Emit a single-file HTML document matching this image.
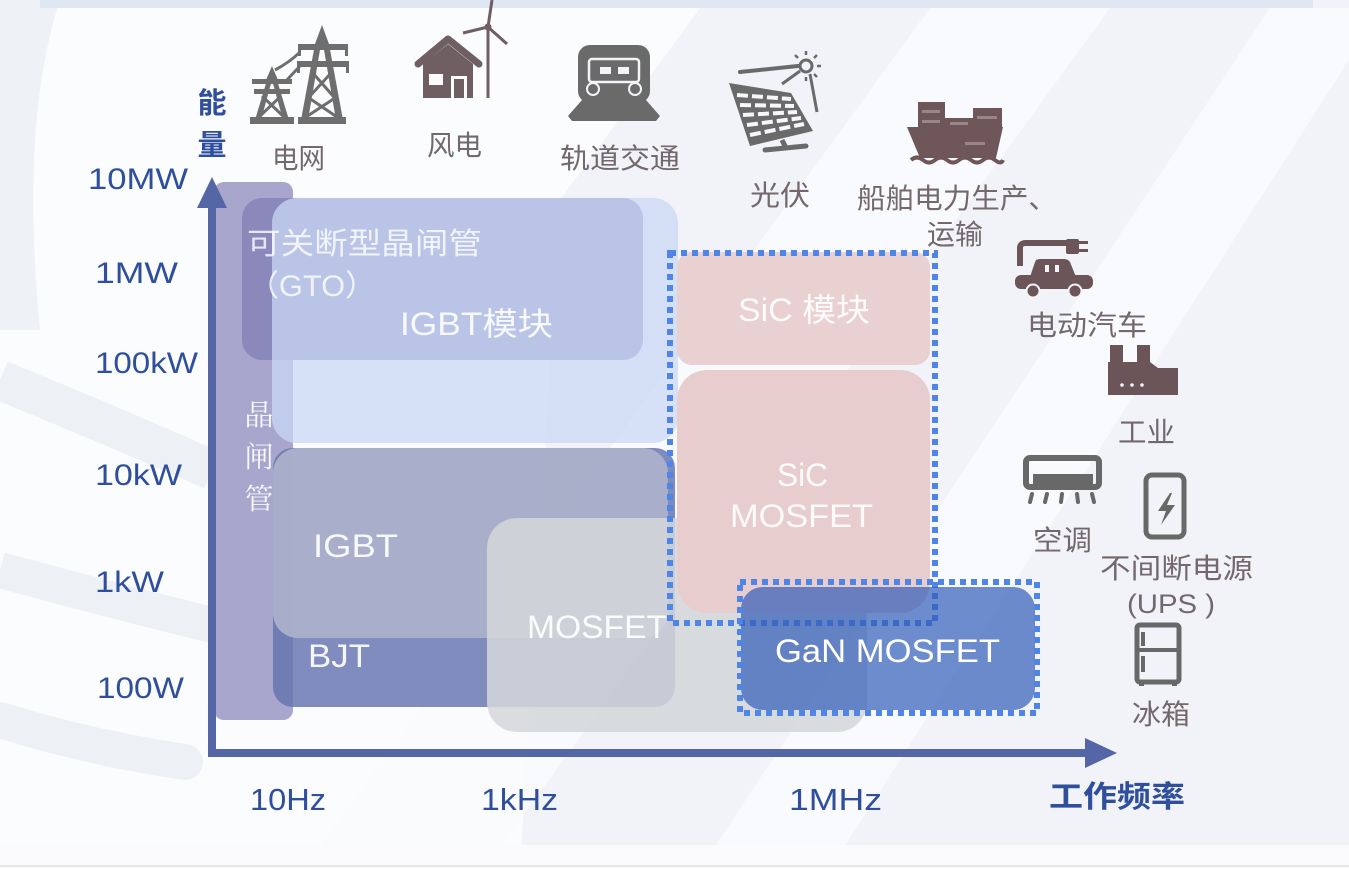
<!DOCTYPE html>
<html><head><meta charset="utf-8"><style>
html,body{margin:0;padding:0;background:#f2f4f8;width:1349px;height:869px;overflow:hidden;}
svg{display:block;}
.l{font-family:"Liberation Sans","Noto Sans CJK SC",sans-serif;}
.c{font-family:"Liberation Sans","Noto Sans CJK SC",sans-serif;}
.s{font-family:"Noto Serif CJK SC","Noto Sans CJK SC",serif;}
</style></head><body>
<svg width="1349" height="869" viewBox="0 0 1349 869" xmlns="http://www.w3.org/2000/svg">
<!-- background -->
<rect x="0" y="0" width="1349" height="869" fill="#f1f3f8"/>
<polygon points="40,8 700,8 560,200 520,869 0,869 0,330" fill="#fbfcfe"/>
<polygon points="930,8 1110,8 484,869 304,869" fill="#fafbfd" opacity="0.9"/>
<polygon points="1270,8 1349,8 1349,60 830,869 700,869" fill="#fafbfd" opacity="0.9"/>
<g fill="none" stroke="#edf0f5">
<path d="M0,380 Q110,425 212,470" stroke-width="40"/>
<path d="M0,570 Q110,600 212,625" stroke-width="36"/>
<path d="M0,720 Q90,748 185,762" stroke-width="36" stroke-linecap="round"/>
</g>
<path d="M0,0 L60,0 Q20,120 40,330 L0,330 Z" fill="#eef1f6"/>
<rect x="40" y="0" width="1273" height="8" fill="#dfe7f3"/>
<rect x="0" y="845" width="1349" height="24" fill="#fbfbfd"/>
<rect x="0" y="865" width="1349" height="2" fill="#e4e6ea"/>

<!-- chart boxes -->
<rect x="214" y="182" width="79" height="538" rx="10" fill="#a8a6cc"/>
<rect x="242" y="198" width="401" height="162" rx="20" fill="#8b88bb"/>
<rect x="272" y="198" width="406" height="245" rx="25" fill="rgb(201,216,244)" fill-opacity="0.75"/>
<rect x="273" y="448" width="402" height="259" rx="20" fill="rgb(100,115,175)" fill-opacity="0.82"/>
<rect x="273" y="448" width="395" height="190" rx="25" fill="rgb(172,178,202)" fill-opacity="0.93"/>
<rect x="487" y="518" width="380" height="214" rx="30" fill="rgb(212,214,218)" fill-opacity="0.86"/>
<rect x="677" y="252" width="253" height="113" rx="15" fill="#e9d0d1"/>
<rect x="677" y="370" width="253" height="243" rx="30" fill="#e8cdce"/>
<rect x="670" y="253" width="265" height="370" fill="none" stroke="#4f86e6" stroke-width="6" stroke-dasharray="6 5"/>
<rect x="741" y="587" width="294" height="123" rx="22" fill="rgb(50,92,184)" fill-opacity="0.7"/>
<rect x="740" y="582" width="297" height="131" fill="none" stroke="#4f86e6" stroke-width="6" stroke-dasharray="6 5"/>

<!-- box texts -->
<g fill="#ffffff">
<text class="c" x="247" y="254" font-size="30" textLength="235" lengthAdjust="spacingAndGlyphs" fill-opacity="0.8">可关断型晶闸管</text>
<text class="c" x="248" y="296" font-size="30" textLength="128" lengthAdjust="spacingAndGlyphs" fill-opacity="0.8">（GTO）</text>
<text class="c" x="400" y="335" font-size="32" textLength="153" lengthAdjust="spacingAndGlyphs" fill-opacity="0.9">IGBT模块</text>
<text class="s" x="259" y="425" font-size="29" text-anchor="middle" fill-opacity="0.9">晶</text>
<text class="s" x="259" y="467" font-size="29" text-anchor="middle" fill-opacity="0.9">闸</text>
<text class="s" x="259" y="509" font-size="29" text-anchor="middle" fill-opacity="0.9">管</text>
<text class="l" x="313" y="557" font-size="32" textLength="85" lengthAdjust="spacingAndGlyphs" fill-opacity="0.92">IGBT</text>
<text class="l" x="308" y="667" font-size="32" textLength="62" lengthAdjust="spacingAndGlyphs" fill-opacity="0.92">BJT</text>
<text class="l" x="527" y="638" font-size="32" textLength="140" lengthAdjust="spacingAndGlyphs" fill-opacity="0.92">MOSFET</text>
<text class="c" x="738" y="321" font-size="32" textLength="132" lengthAdjust="spacingAndGlyphs" fill-opacity="0.9">SiC 模块</text>
<text class="l" x="777" y="486" font-size="32" textLength="51" lengthAdjust="spacingAndGlyphs" fill-opacity="0.9">SiC</text>
<text class="l" x="730" y="527" font-size="32" textLength="143" lengthAdjust="spacingAndGlyphs" fill-opacity="0.9">MOSFET</text>
<text class="l" x="775" y="662" font-size="32" textLength="225" lengthAdjust="spacingAndGlyphs">GaN MOSFET</text>
</g>

<!-- axes -->
<g fill="#5466a6">
<rect x="208" y="200" width="8" height="557"/>
<polygon points="212,177 197,208 227,208"/>
<rect x="208" y="749" width="880" height="8"/>
<polygon points="1117,753 1085,738 1085,768"/>
</g>

<!-- axis labels -->
<g fill="#2f4f9d" class="l" font-size="30">
<text x="88" y="189" textLength="100" lengthAdjust="spacingAndGlyphs">10MW</text>
<text x="95" y="283" textLength="83" lengthAdjust="spacingAndGlyphs">1MW</text>
<text x="95" y="373" textLength="103" lengthAdjust="spacingAndGlyphs">100kW</text>
<text x="95" y="485" textLength="87" lengthAdjust="spacingAndGlyphs">10kW</text>
<text x="95" y="592" textLength="69" lengthAdjust="spacingAndGlyphs">1kW</text>
<text x="97" y="698" textLength="87" lengthAdjust="spacingAndGlyphs">100W</text>
<text x="250" y="810" font-size="31" textLength="76" lengthAdjust="spacingAndGlyphs">10Hz</text>
<text x="481" y="810" font-size="31" textLength="77" lengthAdjust="spacingAndGlyphs">1kHz</text>
<text x="789" y="810" font-size="31" textLength="93" lengthAdjust="spacingAndGlyphs">1MHz</text>
<text x="212" y="113" font-size="29" font-weight="bold" text-anchor="middle">能</text>
<text x="212" y="155" font-size="29" font-weight="bold" text-anchor="middle">量</text>
<text x="1049" y="807" font-size="30" font-weight="bold" textLength="136" lengthAdjust="spacingAndGlyphs">工作频率</text>
</g>

<!-- icon labels -->
<g fill="#73686b" class="c" font-size="28">
<text x="272" y="168" textLength="53" lengthAdjust="spacingAndGlyphs">电网</text>
<text x="427" y="155" textLength="55" lengthAdjust="spacingAndGlyphs">风电</text>
<text x="560" y="168" textLength="120" lengthAdjust="spacingAndGlyphs">轨道交通</text>
<text x="750" y="205" textLength="60" lengthAdjust="spacingAndGlyphs">光伏</text>
<text x="857" y="208" textLength="200" lengthAdjust="spacingAndGlyphs">船舶电力生产、</text>
<text x="927" y="244" textLength="56" lengthAdjust="spacingAndGlyphs">运输</text>
<text x="1027" y="335" textLength="120" lengthAdjust="spacingAndGlyphs">电动汽车</text>
<text x="1118" y="442" textLength="57" lengthAdjust="spacingAndGlyphs">工业</text>
<text x="1033" y="550" textLength="59" lengthAdjust="spacingAndGlyphs">空调</text>
<text x="1100" y="578" textLength="153" lengthAdjust="spacingAndGlyphs">不间断电源</text>
<text class="l" x="1127" y="613" font-size="27" textLength="88" lengthAdjust="spacingAndGlyphs">(UPS )</text>
<text x="1132" y="724" textLength="58" lengthAdjust="spacingAndGlyphs">冰箱</text>
</g>

<!-- pylons -->
<g fill="#6e6e6e" stroke="none">
<polygon points="322,25 315,44 329,44"/>
<rect x="298" y="44" width="50" height="6"/>
<rect x="297" y="61" width="52" height="6"/>
<rect x="298" y="50" width="3" height="6"/><rect x="345" y="50" width="3" height="6"/>
<rect x="297" y="67" width="3" height="6"/><rect x="346" y="67" width="3" height="6"/>
<polygon points="315,44 321,44 308,120 301,120"/>
<polygon points="323,44 329,44 343,120 336,120"/>
<rect x="298" y="117" width="48" height="7"/>
<polygon points="272,66 266,80 278,80"/>
<rect x="252" y="79" width="40" height="5"/>
<rect x="254" y="89" width="36" height="5"/>
<polygon points="267,80 272,80 261,120 255,120"/>
<polygon points="272,80 277,80 289,120 283,120"/>
<rect x="250" y="117" width="44" height="7"/>
</g>
<g stroke="#6e6e6e" stroke-width="3" fill="none">
<path d="M312,72 L333,96 M332,72 L310,96 M309,98 L337,117 M335,98 L306,117"/>
<path d="M262,96 L283,116 M281,96 L260,116"/>
<path d="M275,70 Q290,62 300,52"/>
<path d="M285,82 L300,66"/>
</g>

<!-- house + turbine -->
<g fill="#6f5e62">
<polygon points="423,64 448,44 473,64 473,98 423,98"/>
<polyline points="418,64 448,39 479,64" fill="none" stroke="#6f5e62" stroke-width="7" stroke-linecap="round" stroke-linejoin="round"/>
<rect x="429" y="74" width="14" height="11" fill="#fbfbfd"/>
<rect x="451" y="76" width="16" height="22" fill="#fbfbfd"/>
<rect x="454" y="79" width="10" height="19"/>
<line x1="488" y1="30" x2="488" y2="98" stroke="#6f5e62" stroke-width="3"/>
<line x1="488" y1="27" x2="492" y2="0" stroke="#6f5e62" stroke-width="3"/>
<line x1="488" y1="27" x2="463" y2="33" stroke="#6f5e62" stroke-width="3"/>
<line x1="488" y1="27" x2="507" y2="44" stroke="#6f5e62" stroke-width="3"/>
<circle cx="488" cy="27" r="3.5"/>
</g>

<!-- train -->
<g fill="#6a6a6a">
<rect x="578" y="45" width="72" height="58" rx="12"/>
<rect x="589" y="59" width="50" height="23" rx="3" fill="none" stroke="#f3f4f7" stroke-width="2.5"/>
<rect x="600" y="67" width="11" height="7" fill="#f3f4f7"/>
<rect x="618" y="67" width="11" height="7" fill="#f3f4f7"/>
<circle cx="593" cy="89" r="6" stroke="#f3f4f7" stroke-width="2"/>
<circle cx="635" cy="89" r="6" stroke="#f3f4f7" stroke-width="2"/>
<polygon points="582,100 646,100 660,116 656,121 572,121 568,116"/>
</g>

<!-- solar -->
<g fill="#6a6a6a">
<polygon points="729,83 791,93 813,131 750,146"/>
<g stroke="#f6f7fa" stroke-width="4" stroke-dasharray="11 4">
<line x1="737" y1="95" x2="791" y2="99"/>
<line x1="740" y1="105" x2="794" y2="106"/>
<line x1="743" y1="115" x2="797" y2="112"/>
<line x1="747" y1="125" x2="801" y2="118"/>
<line x1="750" y1="135" x2="804" y2="124"/>
</g>
<line x1="765" y1="150" x2="806" y2="146" stroke="#6a6a6a" stroke-width="5" stroke-linecap="round"/>
<line x1="782" y1="140" x2="786" y2="148" stroke="#6a6a6a" stroke-width="5"/>
<line x1="740" y1="72" x2="798" y2="66" stroke="#6a6a6a" stroke-width="4" stroke-linecap="round"/>
<line x1="782" y1="84" x2="800" y2="71" stroke="#6a6a6a" stroke-width="3"/>
<line x1="810" y1="74" x2="817" y2="112" stroke="#6a6a6a" stroke-width="3"/>
<circle cx="806" cy="66" r="6" fill="none" stroke="#6a6a6a" stroke-width="3"/>
<g stroke="#6a6a6a" stroke-width="2.5">
<line x1="806" y1="55" x2="806" y2="51"/><line x1="806" y1="77" x2="806" y2="81"/>
<line x1="795" y1="66" x2="791" y2="66"/><line x1="817" y1="66" x2="821" y2="66"/>
<line x1="798" y1="58" x2="795" y2="55"/><line x1="814" y1="58" x2="817" y2="55"/>
<line x1="814" y1="74" x2="817" y2="77"/>
</g>
</g>

<!-- ship -->
<g fill="#6f5659">
<rect x="918" y="102" width="27" height="28"/>
<rect x="945" y="118" width="28" height="12"/>
<rect x="973" y="108" width="29" height="22"/>
<polygon points="907,127 1003,127 996,158 920,158"/>
<g fill="#9a8588">
<rect x="922" y="110" width="18" height="3"/><rect x="922" y="120" width="18" height="3"/>
<rect x="977" y="116" width="20" height="3"/><rect x="950" y="122" width="18" height="3"/>
<rect x="965" y="142" width="20" height="3"/>
</g>
<path d="M911,160 q6,-5 12,0 q6,5 12,0 q6,-5 12,0 q6,5 12,0 q6,-5 12,0 q6,5 12,0 q6,-5 12,0 q6,5 8,0" fill="none" stroke="#6f5659" stroke-width="4"/>
</g>

<!-- car -->
<g fill="#6c5558">
<path d="M1020,266 L1020,248 Q1020,243 1026,243 L1068,243" fill="none" stroke="#6c5558" stroke-width="6"/>
<rect x="1066" y="239" width="13" height="15" rx="2"/>
<rect x="1078" y="241" width="10" height="3"/><rect x="1078" y="249" width="10" height="3"/>
<path d="M1030,277 L1035,262 Q1036,259 1040,259 L1064,259 Q1068,259 1070,262 L1076,277 Z"/>
<rect x="1015" y="275" width="78" height="14" rx="6"/>
<rect x="1045" y="265" width="4" height="7" fill="#f3f4f7"/><rect x="1055" y="265" width="4" height="7" fill="#f3f4f7"/>
<circle cx="1033" cy="291" r="6.5" stroke="#f3f4f7" stroke-width="2"/>
<circle cx="1075" cy="291" r="6.5" stroke="#f3f4f7" stroke-width="2"/>
</g>

<!-- factory -->
<g fill="#6c5558">
<rect x="1110" y="345" width="13" height="20"/>
<rect x="1137" y="345" width="13" height="20"/>
<polygon points="1108,362 1150,362 1158,368 1178,368 1178,395 1108,395"/>
<circle cx="1122" cy="385" r="1.8" fill="#f3f4f7"/>
<circle cx="1132" cy="385" r="1.8" fill="#f3f4f7"/>
<circle cx="1142" cy="385" r="1.8" fill="#f3f4f7"/>
</g>

<!-- AC -->
<g fill="#686868">
<rect x="1026" y="458" width="73" height="29" rx="4" fill="none" stroke="#686868" stroke-width="6"/>
<rect x="1033" y="474" width="60" height="13"/>
<g stroke="#686868" stroke-width="4" stroke-linecap="round">
<line x1="1032" y1="494" x2="1030" y2="502"/>
<line x1="1047" y1="494" x2="1045" y2="502"/>
<line x1="1062" y1="494" x2="1061" y2="502"/>
<line x1="1077" y1="494" x2="1078" y2="502"/>
<line x1="1092" y1="494" x2="1094" y2="502"/>
</g>
</g>

<!-- UPS -->
<g fill="#686868">
<rect x="1146" y="475" width="38" height="62" rx="6" fill="none" stroke="#686868" stroke-width="5"/>
<polygon points="1170,493 1158,511 1166,511 1161,525 1175,505 1167,505 1172,493"/>
</g>

<!-- fridge -->
<g fill="#686868">
<rect x="1137" y="625" width="42" height="57" rx="3" fill="none" stroke="#686868" stroke-width="5"/>
<rect x="1137" y="648" width="42" height="4"/>
<rect x="1141" y="632" width="4" height="14"/>
<rect x="1141" y="656" width="4" height="16"/>
<rect x="1139" y="682" width="5" height="4"/><rect x="1172" y="682" width="5" height="4"/>
</g>
</svg>
</body></html>
